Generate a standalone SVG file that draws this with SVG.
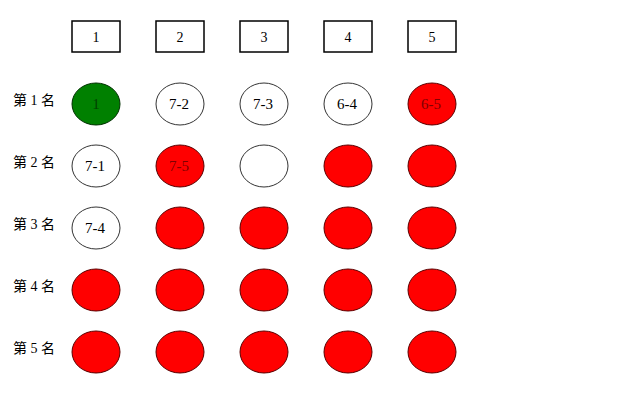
<svg xmlns="http://www.w3.org/2000/svg" width="640" height="417" viewBox="0 0 640 417">
<style>
text{font-family:"Liberation Serif","Noto Sans CJK SC",serif;font-size:14px;fill:#000}
.hdr rect{fill:#fff;stroke:#000;stroke-width:1.5}
.n ellipse{stroke:#333;stroke-width:1}
.n text{font-size:15px}
.w ellipse{fill:#fff}
.r ellipse{fill:#ff0000;stroke:#5a0000}
.g ellipse{fill:#008000;stroke:#003000}
.c{text-anchor:middle;dominant-baseline:central}
.r text{fill:#800000}
.g text{fill:#004000}
.lbl{font-size:14px}
</style>
<rect width="640" height="417" fill="#fff"/>
<g id="headers">
<g id="h1" class="hdr"><rect x="72" y="21" width="48" height="31"/><text class="c" x="96" y="37">1</text></g>
<g id="h2" class="hdr"><rect x="156" y="21" width="48" height="31"/><text class="c" x="180" y="37">2</text></g>
<g id="h3" class="hdr"><rect x="240" y="21" width="48" height="31"/><text class="c" x="264" y="37">3</text></g>
<g id="h4" class="hdr"><rect x="324" y="21" width="48" height="31"/><text class="c" x="348" y="37">4</text></g>
<g id="h5" class="hdr"><rect x="408" y="21" width="48" height="31"/><text class="c" x="432" y="37">5</text></g>
</g>
<g id="labels">
<text class="lbl" x="13" y="105">第 1 名</text>
<text class="lbl" x="13" y="167">第 2 名</text>
<text class="lbl" x="13" y="229">第 3 名</text>
<text class="lbl" x="13" y="291">第 4 名</text>
<text class="lbl" x="13" y="353">第 5 名</text>
</g>
<g id="connectors"/>
<g id="nodes">
<g id="n11" class="n g"><ellipse cx="96" cy="104" rx="24" ry="21"/><text class="c" x="96" y="104">1</text></g>
<g id="n12" class="n w"><ellipse cx="180" cy="104" rx="24" ry="21"/><text class="c" x="179" y="104">7-2</text></g>
<g id="n13" class="n w"><ellipse cx="264" cy="104" rx="24" ry="21"/><text class="c" x="263" y="104">7-3</text></g>
<g id="n14" class="n w"><ellipse cx="348" cy="104" rx="24" ry="21"/><text class="c" x="347" y="104">6-4</text></g>
<g id="n15" class="n r"><ellipse cx="432" cy="104" rx="24" ry="21"/><text class="c" x="431" y="104">6-5</text></g>
<g id="n21" class="n w"><ellipse cx="96" cy="166" rx="24" ry="21"/><text class="c" x="95" y="166">7-1</text></g>
<g id="n22" class="n r"><ellipse cx="180" cy="166" rx="24" ry="21"/><text class="c" x="179" y="166">7-5</text></g>
<g id="n23" class="n w"><ellipse cx="264" cy="166" rx="24" ry="21"/></g>
<g id="n24" class="n r"><ellipse cx="348" cy="166" rx="24" ry="21"/></g>
<g id="n25" class="n r"><ellipse cx="432" cy="166" rx="24" ry="21"/></g>
<g id="n31" class="n w"><ellipse cx="96" cy="228" rx="24" ry="21"/><text class="c" x="95" y="228">7-4</text></g>
<g id="n32" class="n r"><ellipse cx="180" cy="228" rx="24" ry="21"/></g>
<g id="n33" class="n r"><ellipse cx="264" cy="228" rx="24" ry="21"/></g>
<g id="n34" class="n r"><ellipse cx="348" cy="228" rx="24" ry="21"/></g>
<g id="n35" class="n r"><ellipse cx="432" cy="228" rx="24" ry="21"/></g>
<g id="n41" class="n r"><ellipse cx="96" cy="290" rx="24" ry="21"/></g>
<g id="n42" class="n r"><ellipse cx="180" cy="290" rx="24" ry="21"/></g>
<g id="n43" class="n r"><ellipse cx="264" cy="290" rx="24" ry="21"/></g>
<g id="n44" class="n r"><ellipse cx="348" cy="290" rx="24" ry="21"/></g>
<g id="n45" class="n r"><ellipse cx="432" cy="290" rx="24" ry="21"/></g>
<g id="n51" class="n r"><ellipse cx="96" cy="352" rx="24" ry="21"/></g>
<g id="n52" class="n r"><ellipse cx="180" cy="352" rx="24" ry="21"/></g>
<g id="n53" class="n r"><ellipse cx="264" cy="352" rx="24" ry="21"/></g>
<g id="n54" class="n r"><ellipse cx="348" cy="352" rx="24" ry="21"/></g>
<g id="n55" class="n r"><ellipse cx="432" cy="352" rx="24" ry="21"/></g>
</g>
</svg>
